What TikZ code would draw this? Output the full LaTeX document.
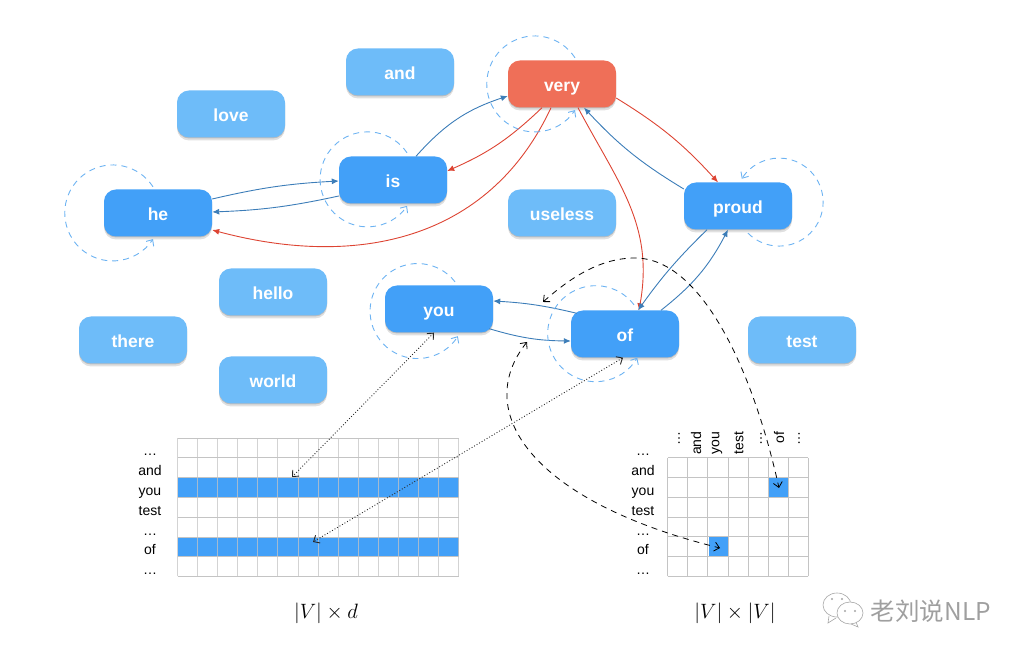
\documentclass[tikz,border=0pt]{standalone}
\usepackage{fontspec}
\setmainfont{Liberation Sans}
\newfontfamily\cjk{Noto Sans CJK SC}
\usetikzlibrary{arrows.meta,shadows}
\definecolor{wordblue}{HTML}{42A0F8}
\definecolor{wordlight}{HTML}{6EBCF9}
\definecolor{wordred}{HTML}{EF6F58}
\definecolor{edgeblue}{HTML}{3C7DB8}
\definecolor{edgered}{HTML}{DD4433}
\definecolor{loopblue}{HTML}{6DB3F2}
\definecolor{gridgray}{HTML}{C4C4C4}
\tikzset{
  wordbox/.style={minimum width=108pt,minimum height=47pt,inner sep=0pt,rounded corners=12pt,
    text height=16pt,text depth=0pt,
    text=white,font=\fontsize{17.5}{17.5}\selectfont\bfseries,
    drop shadow={shadow xshift=0pt,shadow yshift=-1pt,fill=black,opacity=.16},
    drop shadow={shadow xshift=0pt,shadow yshift=-3pt,fill=black,opacity=.12}},
  active/.style={wordbox,fill=wordblue},
  idle/.style={wordbox,fill=wordlight},
  center word/.style={wordbox,fill=wordred},
  blueedge/.style={draw=edgeblue,line width=.9pt,-{Latex[length=7pt,width=6pt]}},
  rededge/.style={draw=edgered,line width=.9pt,-{Latex[length=7pt,width=6pt]}},
  loopline/.style={draw=loopblue,line width=.9pt,dash pattern=on 6pt off 5pt,-{Straight Barb[length=5pt,width=9pt]}},
  linkline/.style={draw=black,line width=.8pt,dash pattern=on 6pt off 5pt,{Straight Barb[length=5pt,width=9pt]}-{Straight Barb[length=5pt,width=9pt]}},
  rowline/.style={draw=black!85,line width=.9pt,dotted,{Straight Barb[length=5pt,width=9pt]}-{Straight Barb[length=5pt,width=9pt]}},
  gridline/.style={draw=gridgray,line width=.8pt},
  rowlabel/.style={anchor=base,font=\fontsize{14}{14}\selectfont},
  collabel/.style={rotate=90,anchor=east,font=\fontsize{14}{14}\selectfont},
  sizelabel/.style={font=\fontsize{22}{22}\selectfont}
}

\begin{document}
\begin{tikzpicture}[x=1pt,y=1pt]
  \useasboundingbox (0,0) rectangle (1026,656);

  \node [idle]        (and)     at (400,584) {and};
  \node [idle]        (love)    at (231,542) {love};
  \node [idle]        (useless) at (562,443) {useless};
  \node [idle]        (hello)   at (273,364) {hello};
  \node [idle]        (there)   at (133,316) {there};
  \node [idle]        (world)   at (273,276) {world};
  \node [idle]        (test)    at (802,316) {test};
  \node [active]      (he)      at (158,443) {he};
  \node [active]      (is)      at (393,476) {is};
  \node [center word] (very)    at (562,572) {very};
  \node [active]      (proud)   at (738,450) {proud};
  \node [active]      (you)     at (439,347) {you};
  \node [active]      (of)      at (625,322) {of};

  \draw [blueedge] ([yshift=14]he.east)  to [bend left=5]  ([yshift=-1]is.west);
  \draw [blueedge] ([yshift=-16]is.west) to [bend left=5]  ([yshift=1]he.east);
  \draw [blueedge] ([xshift=23]is.north) to [bend left=15] ([yshift=-12]very.west);
  \draw [rededge]  ([xshift=-20]very.south) to [bend left=10] ([yshift=9]is.east);
  \draw [rededge]  ([xshift=-11]very.south) to [out=245,in=-15,looseness=1.05] ([yshift=-17]he.east);
  \draw [rededge]  ([xshift=16]very.south)  to [out=-62,in=80,looseness=1.05] ([xshift=14]of.north);
  \draw [rededge]  ([yshift=-14]very.east)  to [bend left=8]  ([xshift=-20]proud.north);
  \draw [blueedge] ([yshift=17]proud.west)  to [bend left=8]  ([xshift=22]very.south);
  \draw [blueedge] ([xshift=36]of.north)    to [bend right=12] ([xshift=-10]proud.south);
  \draw [blueedge] ([xshift=-31]proud.south) to [bend right=5] ([xshift=13]of.north);
  \draw [blueedge] ([xshift=6,yshift=-3]of.north west) to [bend right=5] ([yshift=8]you.east);
  \draw [blueedge] ([xshift=-4,yshift=4]you.south east) to [bend right=8] ([yshift=-7]of.west);

  \draw [loopline] ([xshift=-5,yshift=2.5]he.north)  arc [start angle=33,end angle=327,radius=48];
  \draw [loopline] ([xshift=14,yshift=3.5]is.north)  arc [start angle=34,end angle=326,radius=47.5];
  \draw [loopline] ([xshift=13,yshift=2.5]very.north) arc [start angle=33,end angle=327,radius=48];
  \draw [loopline] ([xshift=16,yshift=3.5]you.north) arc [start angle=38,end angle=328,radius=47.5];
  \draw [loopline] ([xshift=9,yshift=5.5]of.north)   arc [start angle=37,end angle=330,radius=48];
  \draw [loopline] ([xshift=10,yshift=-3.5]proud.south) arc [start angle=-135,end angle=148,radius=44];

  % left table
  \fill [wordblue] (177.5,158) rectangle (458.5,178);
  \fill [wordblue] (177.5,98.5) rectangle (458.5,118.5);
  \foreach \x in {0,...,14}
    \draw [gridline,opacity=.75] ({177.5+20.07*\x},79.5) -- ({177.5+20.07*\x},218);
  \foreach \y in {0,...,7}
    \draw [gridline] (177.5,{79.5+19.79*\y}) -- (458.5,{79.5+19.79*\y});
  \foreach \word [count=\i from 0] in {\ldots,and,you,test,\ldots,of,\ldots}
    \node [rowlabel] (left\i) at (150,{200-19.8*\i}) {\word};

  % right table
  \fill [wordblue] (768.5,158.5) rectangle (788.5,178.5);
  \fill [wordblue] (708.5,98.5) rectangle (728.5,118.5);
  \foreach \x in {0,...,7}
    \draw [gridline] ({667.7+20.09*\x},79.5) -- ({667.7+20.09*\x},198.3);
  \foreach \y in {0,...,6}
    \draw [gridline] (667.7,{79.5+19.8*\y}) -- (808.3,{79.5+19.8*\y});
  \foreach \word [count=\i from 0] in {\ldots,and,you,test,\ldots,of,\ldots}
    \node [rowlabel] (right\i) at (643,{200-19.8*\i}) {\word};
  \foreach \x/\word [count=\i] in {679/\ldots,696/and,717/you,739/test,761/\ldots,779/of,799/\ldots}
    \node [collabel] (top\i) at (\x,228) {\word};

  \node [sizelabel] (dsize) at (326,43) {$|V|\times d$};
  \node [sizelabel] (vsize) at (735,43) {$|V|\times|V|$};

  \coordinate (youRow)  at (292,179);
  \coordinate (ofRow)   at (313,114);
  \coordinate (ofCell)  at (779,168);
  \coordinate (youCell) at (720,108);
  \coordinate (ofFree)  at (543,354);
  \coordinate (youFree) at (527,314);

  \draw [rowline] ([xshift=-5]you.south) -- (youRow);
  \draw [rowline] ([xshift=-2]of.south)  -- (ofRow);
  \draw [linkline] (ofFree) .. controls (570,378) and (600,398) .. (635,398)
                            .. controls (700,398) and (752,290) .. (ofCell);
  \draw [linkline] (youFree) .. controls (472,245) and (530,155) .. (youCell);

  % mark in the corner
  \draw [gray!70,fill=white,line width=.6pt] (829,40) -- (828,33) -- (836,38);
  \draw [gray!70,fill=white,line width=.6pt] (837,51) ellipse (14 and 12);
  \draw [gray!70,fill=white,line width=.6pt] (856,34) -- (858,29) -- (851,32);
  \draw [gray!70,fill=white,line width=.6pt] (850,43) ellipse (13 and 11);
  \foreach \x/\y [count=\i] in {832/57,842/57,845/45,855/45}
    \fill [gray!70] (\x,\y) circle (1.2);
  \node [text=gray!75,font=\cjk\fontsize{24.5}{24.5}\selectfont] (mark) at (931,45) {老刘说NLP};
\end{tikzpicture}
\end{document}
